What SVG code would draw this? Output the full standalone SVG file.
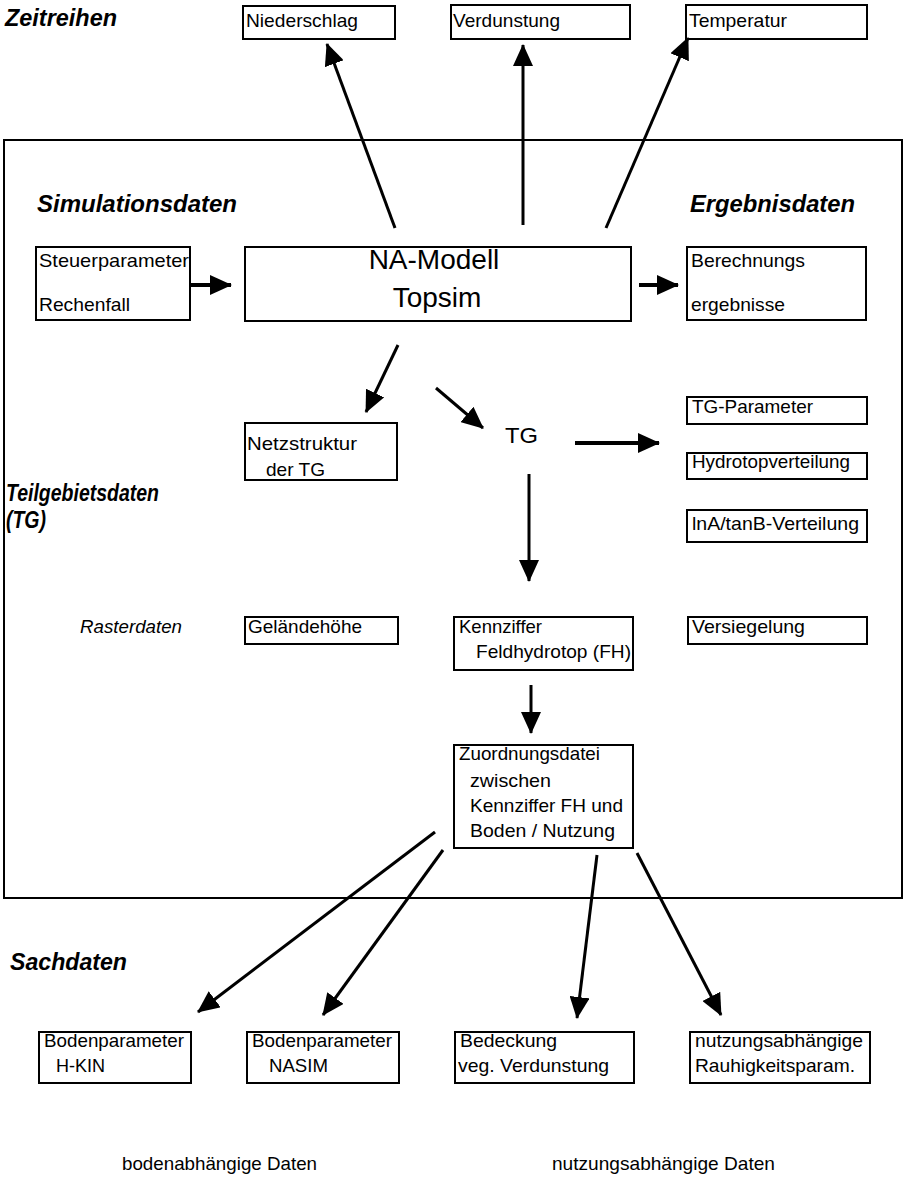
<svg xmlns="http://www.w3.org/2000/svg" width="905" height="1179" viewBox="0 0 905 1179">
<style>
text{font-family:"Liberation Sans",Arial,sans-serif;fill:#000;}
.t{font-size:19px;}
.h{font-size:24px;font-weight:bold;font-style:italic;}
.big{font-size:28px;}
.box{fill:#fff;stroke:#000;stroke-width:2;}
.frame{fill:none;stroke:#000;stroke-width:2;}
.c line{stroke:#000;stroke-width:3;marker-end:url(#ah);}
</style>
<defs>
<marker id="ah" markerUnits="userSpaceOnUse" markerWidth="22" markerHeight="20" refX="21" refY="10" orient="auto" viewBox="0 0 22 20">
<path d="M0,0 L22,10 L0,20 z" fill="#000"/>
</marker>
</defs>
<rect width="905" height="1179" fill="#fff"/>
<rect id="frame" class="frame" x="4" y="140" width="898" height="758"/>

<g id="labels">
<text class="h" x="5" y="26" textLength="112" lengthAdjust="spacingAndGlyphs">Zeitreihen</text>
<text class="h" x="37" y="212" textLength="200" lengthAdjust="spacingAndGlyphs">Simulationsdaten</text>
<text class="h" x="690" y="212" textLength="165" lengthAdjust="spacingAndGlyphs">Ergebnisdaten</text>
<text class="h" x="6" y="501" textLength="153" lengthAdjust="spacingAndGlyphs">Teilgebietsdaten</text>
<text class="h" x="6" y="528" textLength="40" lengthAdjust="spacingAndGlyphs">(TG)</text>
<text class="t" x="80" y="633" font-style="italic" textLength="102" lengthAdjust="spacingAndGlyphs">Rasterdaten</text>
<text class="h" x="10" y="970" textLength="117" lengthAdjust="spacingAndGlyphs">Sachdaten</text>
<text class="t" x="122" y="1170" textLength="195" lengthAdjust="spacingAndGlyphs">bodenabhängige Daten</text>
<text class="t" x="552" y="1170" textLength="223" lengthAdjust="spacingAndGlyphs">nutzungsabhängige Daten</text>
</g>

<g id="niederschlag"><rect class="box" x="243" y="6" width="152" height="33"/><text class="t" x="246" y="27" textLength="112" lengthAdjust="spacingAndGlyphs">Niederschlag</text></g>
<g id="verdunstung"><rect class="box" x="451" y="5" width="179" height="34"/><text class="t" x="453" y="27" textLength="107" lengthAdjust="spacingAndGlyphs">Verdunstung</text></g>
<g id="temperatur"><rect class="box" x="686" y="5" width="181" height="34"/><text class="t" x="689" y="27" textLength="98" lengthAdjust="spacingAndGlyphs">Temperatur</text></g>

<g id="steuer"><rect class="box" x="36" y="247" width="154" height="73"/><text class="t" x="39" y="267" textLength="150" lengthAdjust="spacingAndGlyphs">Steuerparameter</text><text class="t" x="39" y="311" textLength="91" lengthAdjust="spacingAndGlyphs">Rechenfall</text></g>
<g id="namodell"><rect class="box" x="245" y="247" width="386" height="74"/><text class="big" x="434" y="269" text-anchor="middle">NA-Modell</text><text class="big" x="437" y="307" text-anchor="middle">Topsim</text></g>
<g id="berechnung"><rect class="box" x="687" y="247" width="179" height="73"/><text class="t" x="691" y="267" textLength="114" lengthAdjust="spacingAndGlyphs">Berechnungs</text><text class="t" x="691" y="311" textLength="94" lengthAdjust="spacingAndGlyphs">ergebnisse</text></g>

<g id="netz"><rect class="box" x="245" y="423" width="152" height="57"/><text class="t" x="247" y="450" textLength="110" lengthAdjust="spacingAndGlyphs">Netzstruktur</text><text class="t" x="266" y="476" textLength="59" lengthAdjust="spacingAndGlyphs">der TG</text></g>
<g id="tg"><text x="505" y="443" font-size="22" textLength="33" lengthAdjust="spacingAndGlyphs">TG</text></g>
<g id="tgparam"><rect class="box" x="687" y="397" width="180" height="27"/><text class="t" x="692" y="413" textLength="121" lengthAdjust="spacingAndGlyphs">TG-Parameter</text></g>
<g id="hydro"><rect class="box" x="687" y="453" width="180" height="26"/><text class="t" x="692" y="468" textLength="158" lengthAdjust="spacingAndGlyphs">Hydrotopverteilung</text></g>
<g id="lna"><rect class="box" x="687" y="510" width="180" height="32"/><text class="t" x="692" y="530" textLength="167" lengthAdjust="spacingAndGlyphs">lnA/tanB-Verteilung</text></g>

<g id="gelaende"><rect class="box" x="245" y="617" width="153" height="27"/><text class="t" x="248" y="633" textLength="114" lengthAdjust="spacingAndGlyphs">Geländehöhe</text></g>
<g id="kennziffer"><rect class="box" x="454" y="617" width="179" height="53"/><text class="t" x="459" y="633" textLength="83" lengthAdjust="spacingAndGlyphs">Kennziffer</text><text class="t" x="476" y="658" textLength="155" lengthAdjust="spacingAndGlyphs">Feldhydrotop (FH)</text></g>
<g id="versiegelung"><rect class="box" x="688" y="617" width="179" height="27"/><text class="t" x="692" y="633" textLength="113" lengthAdjust="spacingAndGlyphs">Versiegelung</text></g>

<g id="zuordnung"><rect class="box" x="454" y="745" width="179" height="103"/>
<text class="t" x="459" y="760" textLength="141" lengthAdjust="spacingAndGlyphs">Zuordnungsdatei</text>
<text class="t" x="470" y="787" textLength="81" lengthAdjust="spacingAndGlyphs">zwischen</text>
<text class="t" x="470" y="812" textLength="153" lengthAdjust="spacingAndGlyphs">Kennziffer FH und</text>
<text class="t" x="470" y="837" textLength="145" lengthAdjust="spacingAndGlyphs">Boden / Nutzung</text></g>

<g id="hkin"><rect class="box" x="39" y="1032" width="152" height="51"/><text class="t" x="44" y="1047" textLength="140" lengthAdjust="spacingAndGlyphs">Bodenparameter</text><text class="t" x="56" y="1072" textLength="49" lengthAdjust="spacingAndGlyphs">H-KIN</text></g>
<g id="nasim"><rect class="box" x="247" y="1032" width="152" height="51"/><text class="t" x="252" y="1047" textLength="140" lengthAdjust="spacingAndGlyphs">Bodenparameter</text><text class="t" x="269" y="1072" textLength="59" lengthAdjust="spacingAndGlyphs">NASIM</text></g>
<g id="bedeckung"><rect class="box" x="455" y="1032" width="179" height="51"/><text class="t" x="460" y="1047" textLength="97" lengthAdjust="spacingAndGlyphs">Bedeckung</text><text class="t" x="458" y="1072" textLength="151" lengthAdjust="spacingAndGlyphs">veg. Verdunstung</text></g>
<g id="rauhigkeit"><rect class="box" x="690" y="1032" width="180" height="51"/><text class="t" x="695" y="1047" textLength="168" lengthAdjust="spacingAndGlyphs">nutzungsabhängige</text><text class="t" x="695" y="1072" textLength="160" lengthAdjust="spacingAndGlyphs">Rauhigkeitsparam.</text></g>

<g id="connectors" class="c">
<line x1="395" y1="228" x2="327" y2="44"/>
<line x1="523" y1="225" x2="523" y2="45"/>
<line x1="606" y1="228" x2="688" y2="38"/>
<line x1="191" y1="285" x2="231" y2="285" style="stroke-width:4"/>
<line x1="639" y1="285" x2="678" y2="285" style="stroke-width:4"/>
<line x1="398" y1="345" x2="366" y2="412"/>
<line x1="436" y1="388" x2="483" y2="428"/>
<line x1="575" y1="443" x2="659" y2="443" style="stroke-width:4"/>
<line x1="529" y1="474" x2="529" y2="581"/>
<line x1="531" y1="685" x2="531" y2="733"/>
<line x1="435" y1="832" x2="198" y2="1012"/>
<line x1="443" y1="850" x2="323" y2="1015"/>
<line x1="597" y1="855" x2="577" y2="1018"/>
<line x1="637" y1="853" x2="721" y2="1015"/>
</g>
</svg>
